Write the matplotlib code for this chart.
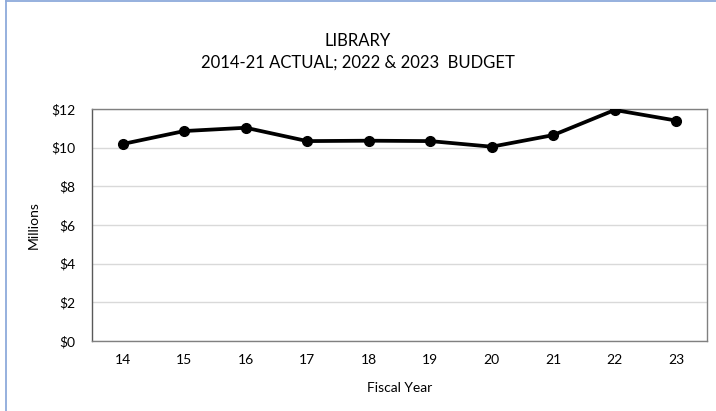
import matplotlib
matplotlib.use("Agg")
import matplotlib.pyplot as plt
from matplotlib.lines import Line2D
from matplotlib.ticker import FuncFormatter

plt.rcParams['font.family'] = ['Lato', 'DejaVu Sans']

# Library expenditures, millions of dollars
fiscal_years = ["14", "15", "16", "17", "18", "19", "20", "21", "22", "23"]
spending = [10.19, 10.86, 11.03, 10.34, 10.36, 10.34, 10.05, 10.65, 11.95, 11.40]
y_ticks = [0, 2, 4, 6, 8, 10, 12]

fig = plt.figure(figsize=(7.16, 4.11), dpi=100)
ax = fig.add_axes([0.1285, 0.1703, 0.8589, 0.5645])

x = list(range(len(fiscal_years)))
ax.plot(x, spending, color='black', lw=2.7, marker='o', markersize=7,
        solid_joinstyle='round', zorder=3)

ax.set_xlim(-0.5, len(fiscal_years) - 0.5)
ax.set_ylim(0, 12)
ax.set_xticks(x)
ax.set_xticklabels(fiscal_years)
ax.set_yticks(y_ticks)
ax.yaxis.set_major_formatter(FuncFormatter(lambda v, p: f"${v:.0f}"))
ax.tick_params(axis='both', length=0, labelsize=10, colors='black')
ax.tick_params(axis='x', pad=9)
ax.tick_params(axis='y', pad=12)

ax.grid(axis='y', color='#d9d9d9', lw=1)
ax.set_axisbelow(True)
for side in ['left', 'right', 'top', 'bottom']:
    ax.spines[side].set_color('#808080')
    ax.spines[side].set_linewidth(1)
ax.spines['left'].set_color('#595959')

ax.set_xlabel("Fiscal Year", fontsize=10, labelpad=12)
ax.set_ylabel("Millions", fontsize=10, labelpad=8)

fig.text(0.5, 0.900, "LIBRARY", ha='center', va='center', fontsize=12)
fig.text(0.5, 0.848, "2014-21 ACTUAL; 2022 & 2023  BUDGET", ha='center',
         va='center', fontsize=12)

# chart border
border = '#8eaadb'
fig.add_artist(Line2D([6 / 716, 6 / 716], [0, 1 - 1 / 411],
                      transform=fig.transFigure, color=border, lw=1.3))
fig.add_artist(Line2D([6 / 716, 1], [1 - 1 / 411, 1 - 1 / 411],
                      transform=fig.transFigure, color=border, lw=1.3))

fig.savefig("out.png", dpi=100)
